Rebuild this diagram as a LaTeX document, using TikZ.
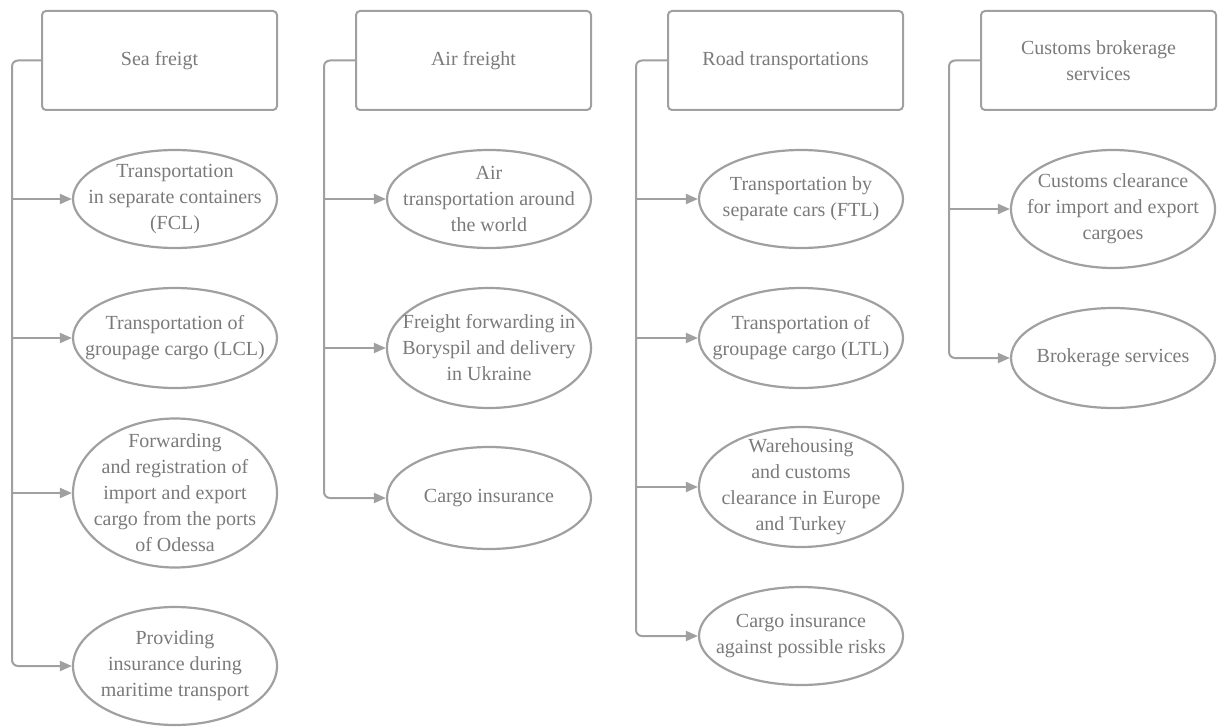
\documentclass[tikz,border=0pt]{standalone}
\usepackage{fontspec}
\setmainfont{Liberation Serif}
\usepackage{tikz}
\usetikzlibrary{shapes.geometric, arrows.meta}
\definecolor{lineg}{HTML}{A0A0A0}
\definecolor{textg}{HTML}{7A7A7A}

\begin{document}
\begin{tikzpicture}[x=0.5pt, y=-0.5pt, >={Triangle[length=6pt, width=5pt]},
		head/.style={draw=lineg, line width=1pt, rounded corners=2pt, text=textg,
			minimum width=117.5pt, minimum height=49.5pt, align=center,
			font=\fontsize{10}{13}\selectfont},
		svc/.style={ellipse, draw=lineg, line width=1.1pt, text=textg,
			inner xsep=-40pt, inner ysep=-30pt, minimum width=102pt, align=center,
			font=\fontsize{10}{13}\selectfont},
		link/.style={lineg, line width=1pt, rounded corners=3pt, ->}]
		
		\useasboundingbox (0,0) rectangle (1224,727);
		
		% column heads
		\node[head] (sea) at (159.5,60.5) {Sea freigt};
		\node[head] (air) at (473.5,60.5) {Air freight};
		\node[head] (road) at (785.5,60.5) {Road transportations};
		\node[head] (cus) at (1098.5,60.5) {Customs brokerage\\services};
		
		% sea freight
		\node[svc, minimum height=49pt] (fcl) at (175,199) {Transportation\\in separate containers\\(FCL)};
		\node[svc, minimum height=50pt] (lcl) at (175,338) {Transportation of\\groupage cargo (LCL)};
		\node[svc, minimum height=74.5pt] (odessa) at (175,493) {Forwarding\\and registration of\\import and export\\cargo from the ports\\of Odessa};
		\node[svc, minimum height=59pt] (marine) at (175,666) {Providing\\insurance during\\maritime transport};
		
		% air freight
		\node[svc, minimum height=49pt] (world) at (489,199) {Air\\transportation around\\the world};
		\node[svc, minimum height=60pt] (borysp) at (489,348) {Freight forwarding in\\Boryspil and delivery\\in Ukraine};
		\node[svc, minimum height=51pt] (ains) at (489,498) {Cargo insurance};
		
		% road transportations
		\node[svc, minimum height=49pt] (ftl) at (801,199) {Transportation by\\separate cars (FTL)};
		\node[svc, minimum height=50pt] (ltl) at (801,338) {Transportation of\\groupage cargo (LTL)};
		\node[svc, minimum height=60pt] (store) at (801,487) {Warehousing\\and customs\\clearance in Europe\\and Turkey};
		\node[svc, minimum height=49pt] (rins) at (801,636) {Cargo insurance\\against possible risks};
		
		% customs brokerage
		\node[svc, minimum height=59pt] (clear) at (1113,209) {Customs clearance\\for import and export\\cargoes};
		\node[svc, minimum height=50pt] (broker) at (1113,358) {Brokerage services};
		
		% trunks
		\coordinate (seaT) at (12,0);
		\coordinate (airT) at (324,0);
		\coordinate (roadT) at (636,0);
		\coordinate (cusT) at (949,0);
		
		\draw[link] (sea.west) -| (seaT |- marine.west) -- (marine.west);
		\draw[link] (seaT |- fcl.west) -- (fcl.west);
		\draw[link] (seaT |- lcl.west) -- (lcl.west);
		\draw[link] (seaT |- odessa.west) -- (odessa.west);
		
		\draw[link] (air.west) -| (airT |- ains.west) -- (ains.west);
		\draw[link] (airT |- world.west) -- (world.west);
		\draw[link] (airT |- borysp.west) -- (borysp.west);
		
		\draw[link] (road.west) -| (roadT |- rins.west) -- (rins.west);
		\draw[link] (roadT |- ftl.west) -- (ftl.west);
		\draw[link] (roadT |- ltl.west) -- (ltl.west);
		\draw[link] (roadT |- store.west) -- (store.west);
		
		\draw[link] (cus.west) -| (cusT |- broker.west) -- (broker.west);
		\draw[link] (cusT |- clear.west) -- (clear.west);
		
	\end{tikzpicture}
\end{document}
